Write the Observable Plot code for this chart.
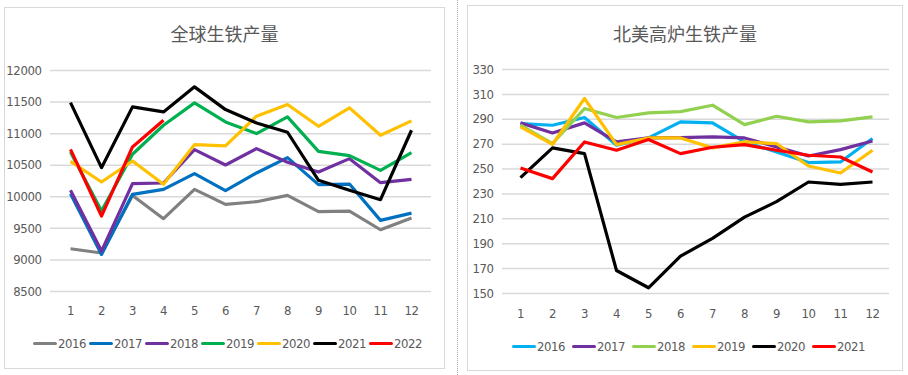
<!DOCTYPE html>
<html>
<head>
<meta charset="utf-8">
<script src="https://cdn.jsdelivr.net/npm/d3@7"></script>
<script src="https://cdn.jsdelivr.net/npm/@observablehq/plot@0.6"></script>
<style>
  html, body { margin: 0; padding: 0; background: #fff; }
  #root { position: relative; width: 908px; height: 375px; overflow: hidden; background: #fff;
    font-family: "Liberation Sans Narrow", "DejaVu Sans Condensed", "Liberation Sans", sans-serif; }
  .panel { position: absolute; border: 1px solid #d9d9d9; box-sizing: border-box; background: #fff; }
  .title { position: absolute; left: 0; right: 0; text-align: center; color: #595959;
    font-family: "Noto Sans CJK SC", sans-serif; font-size: 18px; font-weight: 400; }
  .plotwrap { position: absolute; }
  .legend { position: absolute; display: flex; color: #595959; font-size: 13px; letter-spacing: -0.4px; }
  .legend .item { display: flex; align-items: center; }
  .legend .sw { width: 24px; height: 3.5px; border-radius: 2px; margin-right: 1px; }
  .sep { position: absolute; left: 457px; top: 0; height: 375px; border-left: 1px dotted #aaa; }
  svg text { letter-spacing: -0.4px; }
</style>
</head>
<body>
<div id="root">
  <div class="panel" style="left:4px; top:7px; width:441px; height:362px;"></div>
  <div class="sep"></div>
  <div class="panel" style="left:467px; top:5px; width:436px; height:366px;"></div>
  <div class="title" id="t1" style="left:4px; width:441px; right:auto; top:20px;"></div>
  <div class="title" id="t2" style="left:467px; width:436px; right:auto; top:20px;"></div>
  <div class="plotwrap" id="p1" style="left:4px; top:50px;"></div>
  <div class="plotwrap" id="p2" style="left:467px; top:50px;"></div>
  <div class="legend" id="l1" style="left:33px; top:336px;"></div>
  <div class="legend" id="l2" style="left:512px; top:339px;"></div>
</div>
<script>
// ---- categories ----
const months = [1, 2, 3, 4, 5, 6, 7, 8, 9, 10, 11, 12];

// ---- left chart: 全球生铁产量 ----
const worldTitle = "全球生铁产量";
const worldYears = ["2016", "2017", "2018", "2019", "2020", "2021", "2022"];
const world2016 = [9177, 9110, 10020, 9653, 10118, 9880, 9922, 10023, 9764, 9774, 9478, 9663];
const world2017 = [10049, 9087, 10039, 10118, 10366, 10097, 10377, 10620, 10192, 10202, 9626, 9742];
const world2018 = [10102, 9140, 10208, 10218, 10747, 10504, 10763, 10546, 10393, 10604, 10224, 10276];
const world2019 = [10710, 9774, 10673, 11133, 11487, 11186, 11001, 11265, 10720, 10652, 10419, 10699];
const world2020 = [10562, 10234, 10567, 10197, 10826, 10805, 11276, 11461, 11117, 11408, 10974, 11202];
const world2021 = [11492, 10461, 11424, 11344, 11741, 11381, 11170, 11022, 10261, 10102, 9954, 11054];
const world2022 = [10752, 9695, 10789, 11212];
const worldTicks = [8500, 9000, 9500, 10000, 10500, 11000, 11500, 12000];
const worldColors = ["#808080", "#0070C0", "#7030A0", "#00B050", "#FFC000", "#000000", "#FF0000"];

// ---- right chart: 北美高炉生铁产量 ----
const naTitle = "北美高炉生铁产量";
const naYears = ["2016", "2017", "2018", "2019", "2020", "2021"];
const na2016 = [286.5, 285.2, 291.4, 269.1, 275.0, 287.9, 287.1, 271.8, 263.7, 255.2, 255.7, 274.5];
const na2017 = [287.1, 279.0, 287.1, 271.8, 275.0, 275.3, 275.8, 275.0, 267.8, 260.5, 265.6, 272.6];
const na2018 = [285.2, 270.5, 298.6, 291.4, 295.1, 296.2, 301.3, 285.7, 292.4, 287.9, 288.7, 291.9];
const na2019 = [283.9, 269.9, 306.7, 269.6, 275.0, 275.0, 267.0, 271.8, 270.5, 252.5, 246.8, 265.1];
const na2020 = [243.1, 267.0, 262.4, 168.5, 154.6, 180.0, 194.3, 211.4, 223.8, 239.6, 237.7, 239.6];
const na2021 = [250.9, 242.3, 271.8, 265.1, 273.7, 262.4, 267.5, 269.6, 265.1, 261.1, 259.7, 247.6];
const naTicks = [150, 170, 190, 210, 230, 250, 270, 290, 310, 330];
const naColors = ["#00B0F0", "#7030A0", "#92D050", "#FFC000", "#000000", "#FF0000"];

function toRows(years, series) {
  const rows = [];
  years.forEach((y, i) => series[i].forEach((v, j) => rows.push({year: y, month: months[j], value: v})));
  return rows;
}

const FONT = '"Liberation Sans Narrow", "DejaVu Sans Condensed", "Liberation Sans", sans-serif';

function makeChart(opts) {
  const rows = toRows(opts.years, opts.series);
  return Plot.plot({
    width: opts.width,
    height: opts.height,
    marginLeft: opts.ml,
    marginRight: opts.mr,
    marginTop: opts.mt,
    marginBottom: opts.mb,
    style: {fontFamily: FONT, fontSize: "13px", color: "#595959", background: "transparent", overflow: "visible"},
    x: {type: "point", domain: months, padding: 0.5, label: null},
    y: {domain: opts.yDomain, label: null},
    color: {domain: opts.years, range: opts.colors},
    marks: [
      Plot.ruleY(opts.ticks, {stroke: "#d9d9d9", strokeWidth: 1.5}),
      Plot.axisY(opts.ticks, {tickSize: 0, tickPadding: opts.yPad, fill: "#595959", fontSize: 13,
        label: null, tickFormat: d => String(d)}),
      Plot.axisX(months, {tickSize: 0, tickPadding: opts.xPad, fill: "#595959", fontSize: 13,
        label: null, tickFormat: d => String(d)}),
      Plot.line(rows, {x: "month", y: "value", z: "year", stroke: "year", strokeWidth: 3.2,
        strokeLinejoin: "round", strokeLinecap: "butt"})
    ]
  });
}

document.getElementById("t1").textContent = worldTitle;
document.getElementById("t2").textContent = naTitle;

document.getElementById("p1").appendChild(makeChart({
  width: 440, height: 280, ml: 46, mr: 13, mt: 20, mb: 39,
  years: worldYears,
  series: [world2016, world2017, world2018, world2019, world2020, world2021, world2022],
  colors: worldColors, yDomain: [8500, 12000], ticks: worldTicks, yPad: 9, xPad: 14
}));

document.getElementById("p2").appendChild(makeChart({
  width: 435, height: 280, ml: 35, mr: 13, mt: 19, mb: 37,
  years: naYears,
  series: [na2016, na2017, na2018, na2019, na2020, na2021],
  colors: naColors, yDomain: [150, 330], ticks: naTicks, yPad: 9, xPad: 15
}));

function makeLegend(id, years, colors, itemWidth) {
  const el = document.getElementById(id);
  years.forEach((y, i) => {
    const it = document.createElement("div");
    it.className = "item";
    it.style.width = itemWidth + "px";
    const sw = document.createElement("div");
    sw.className = "sw";
    sw.style.background = colors[i];
    const tx = document.createElement("span");
    tx.textContent = y;
    it.appendChild(sw);
    it.appendChild(tx);
    el.appendChild(it);
  });
}
makeLegend("l1", worldYears, worldColors, 56);
makeLegend("l2", naYears, naColors, 60);
</script>
</body>
</html>
